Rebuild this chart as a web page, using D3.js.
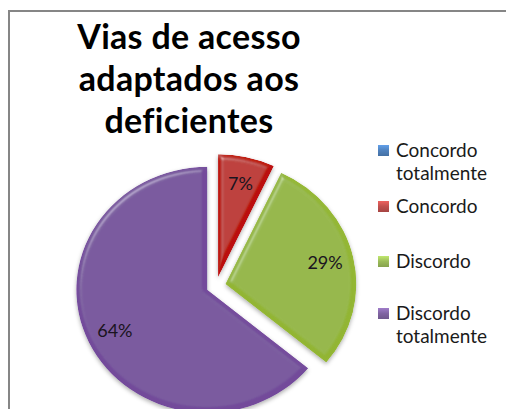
<!DOCTYPE html>
<html>
<head>
<meta charset="utf-8">
<script src="https://cdn.jsdelivr.net/npm/d3@7"></script>
<style>
  html, body { margin: 0; padding: 0; background: #fff; }
  svg { display: block; }
</style>
</head>
<body>
<svg id="chart" width="506" height="409"></svg>
<script>
// Survey answers: "Vias de acesso adaptados aos deficientes"
const categories = ["Concordo totalmente", "Concordo", "Discordo", "Discordo totalmente"];
const legendLines = [["Concordo", "totalmente"], ["Concordo"], ["Discordo"], ["Discordo", "totalmente"]];
const values = [0, 7, 29, 64];
const colors = ["#4F81BD", "#C0504D", "#9BBB59", "#8064A2"];
const titleLines = ["Vias de acesso", "adaptados aos", "deficientes"];

const svg = d3.select("#chart");
const W = 506, H = 409;
const FONT = "Lato, 'Open Sans', sans-serif";

const defs = svg.append("defs");

// Soft bevel + drop shadow for the slices
const bevel = defs.append("filter").attr("id", "bevel")
  .attr("x", "-10%").attr("y", "-10%").attr("width", "120%").attr("height", "120%");
bevel.append("feGaussianBlur").attr("in", "SourceAlpha").attr("stdDeviation", 2.5).attr("result", "blur");
const spec = bevel.append("feSpecularLighting").attr("in", "blur")
  .attr("surfaceScale", 4).attr("specularConstant", 0.5).attr("specularExponent", 18)
  .attr("lighting-color", "#ffffff").attr("result", "spec");
spec.append("feDistantLight").attr("azimuth", 235).attr("elevation", 40);
bevel.append("feComposite").attr("in", "spec").attr("in2", "SourceAlpha").attr("operator", "in").attr("result", "specIn");
bevel.append("feComposite").attr("in", "SourceGraphic").attr("in2", "specIn")
  .attr("operator", "arithmetic").attr("k1", 0).attr("k2", 1).attr("k3", 0.55).attr("k4", -0.08).attr("result", "lit");
bevel.append("feComposite").attr("in", "lit").attr("in2", "SourceAlpha").attr("operator", "in").attr("result", "litIn");
bevel.append("feDropShadow").attr("in", "litIn").attr("dx", 0).attr("dy", 2).attr("stdDeviation", 2)
  .attr("flood-color", "#000").attr("flood-opacity", 0.35);

// Chart frame (only the top and left edges fall inside the canvas)
svg.append("rect")
  .attr("x", 9).attr("y", 11).attr("width", W + 20).attr("height", H + 20)
  .attr("fill", "#fff").attr("stroke", "#868686").attr("stroke-width", 2);

// Title
const title = svg.append("text")
  .attr("text-anchor", "middle")
  .attr("font-family", FONT)
  .attr("font-weight", "bold")
  .attr("font-size", 34)
  .attr("letter-spacing", 0.3)
  .attr("fill", "#000");
titleLines.forEach((t, i) => {
  title.append("tspan").attr("x", 189).attr("y", 49 + i * 42).text(t);
});

// Pie
const cx = 216, cy = 286;
const R = 123, sx = 131 / 123;
const explode = 9;

const pie = d3.pie().sort(null).value(d => d.value).startAngle(0).endAngle(2 * Math.PI);
const data = pie(categories.map((c, i) => ({ name: c, value: values[i], color: colors[i] })));
const arc = d3.arc().innerRadius(0).outerRadius(R);
const labelArc = d3.arc().innerRadius(R * 0.78).outerRadius(R * 0.78);

const g = svg.append("g").attr("transform", `translate(${cx},${cy}) scale(${sx},1)`);
g.selectAll("path")
  .data(data.filter(d => d.data.value > 0))
  .join("path")
  .attr("transform", d => {
    const m = (d.startAngle + d.endAngle) / 2;
    return `translate(${explode * Math.sin(m)},${-explode * Math.cos(m)})`;
  })
  .attr("d", arc)
  .attr("fill", d => d.data.color)
  .attr("filter", "url(#bevel)");

// Percent labels
svg.append("g")
  .selectAll("text")
  .data(data.filter(d => d.data.value > 0))
  .join("text")
  .attr("x", d => {
    const m = (d.startAngle + d.endAngle) / 2;
    return cx + (labelArc.centroid(d)[0] + explode * Math.sin(m)) * sx;
  })
  .attr("y", d => {
    const m = (d.startAngle + d.endAngle) / 2;
    return cy + labelArc.centroid(d)[1] - explode * Math.cos(m);
  })
  .attr("dy", "0.35em")
  .attr("text-anchor", "middle")
  .attr("font-family", FONT)
  .attr("font-size", 18)
  .attr("fill", "#1a1420")
  .text(d => d.data.value + "%");

// Legend
const legendY = [157, 213, 268, 320];
const legend = svg.append("g");
categories.forEach((c, i) => {
  const grad = defs.append("linearGradient").attr("id", "lg" + i)
    .attr("x1", 0).attr("y1", 0).attr("x2", 0).attr("y2", 1);
  grad.append("stop").attr("offset", 0).attr("stop-color", d3.color(colors[i]).brighter(0.6));
  grad.append("stop").attr("offset", 0.5).attr("stop-color", colors[i]);
  grad.append("stop").attr("offset", 1).attr("stop-color", d3.color(colors[i]).darker(0.4));
  legend.append("rect")
    .attr("x", 378).attr("y", legendY[i] - 12)
    .attr("width", 11).attr("height", 11)
    .attr("fill", `url(#lg${i})`);
  const t = legend.append("text")
    .attr("font-family", FONT)
    .attr("font-size", 19)
    .attr("fill", "#1a1a1a");
  legendLines[i].forEach((line, j) => {
    t.append("tspan").attr("x", 396).attr("y", legendY[i] + j * 23).text(line);
  });
});
</script>
</body>
</html>
